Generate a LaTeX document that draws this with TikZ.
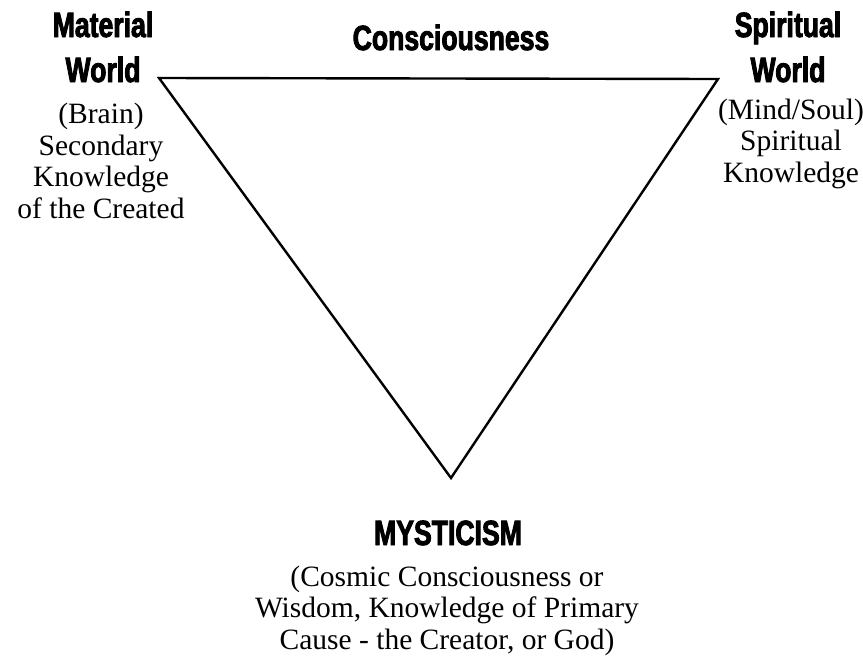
\documentclass[tikz,border=0pt]{standalone}
\usepackage{fontspec}
\setmainfont{Liberation Serif}
\newfontfamily\headfont[FakeStretch=0.76,FakeBold=2.5]{Liberation Sans Bold}
\begin{document}
\begin{tikzpicture}[x=1pt,y=-1pt,
  head/.style={font=\headfont\fontsize{35}{45}\selectfont, align=center, inner sep=0pt, anchor=base},
  body/.style={font=\fontsize{29.5}{31.5}\selectfont, align=center, inner sep=0pt, anchor=base},
  edge/.style={line width=2.4pt, line join=miter}]
\useasboundingbox (0,0) rectangle (863,656);
\coordinate (ml) at (159,78);
\coordinate (sp) at (718,79);
\coordinate (my) at (451,478);
\draw[edge] (ml) -- (sp) -- (my) -- cycle;
% base anchor = baseline of the last line
\node[head] (mwh) at (103,82) {Material\\World};
\node[body] (mwb) at (101,218) {(Brain)\\Secondary\\Knowledge\\of the Created};
\node[head] (swh) at (788,82) {Spiritual\\World};
\node[body] (swb) at (791,182) {(Mind/Soul)\\Spiritual\\Knowledge};
\node[head] (con) at (451,50) {Consciousness};
\node[head] (myh) at (448,545) {MYSTICISM};
\node[body] (myb) at (447,649) {(Cosmic Consciousness or\\Wisdom, Knowledge of Primary\\Cause - the Creator, or God)};
\end{tikzpicture}
\end{document}
